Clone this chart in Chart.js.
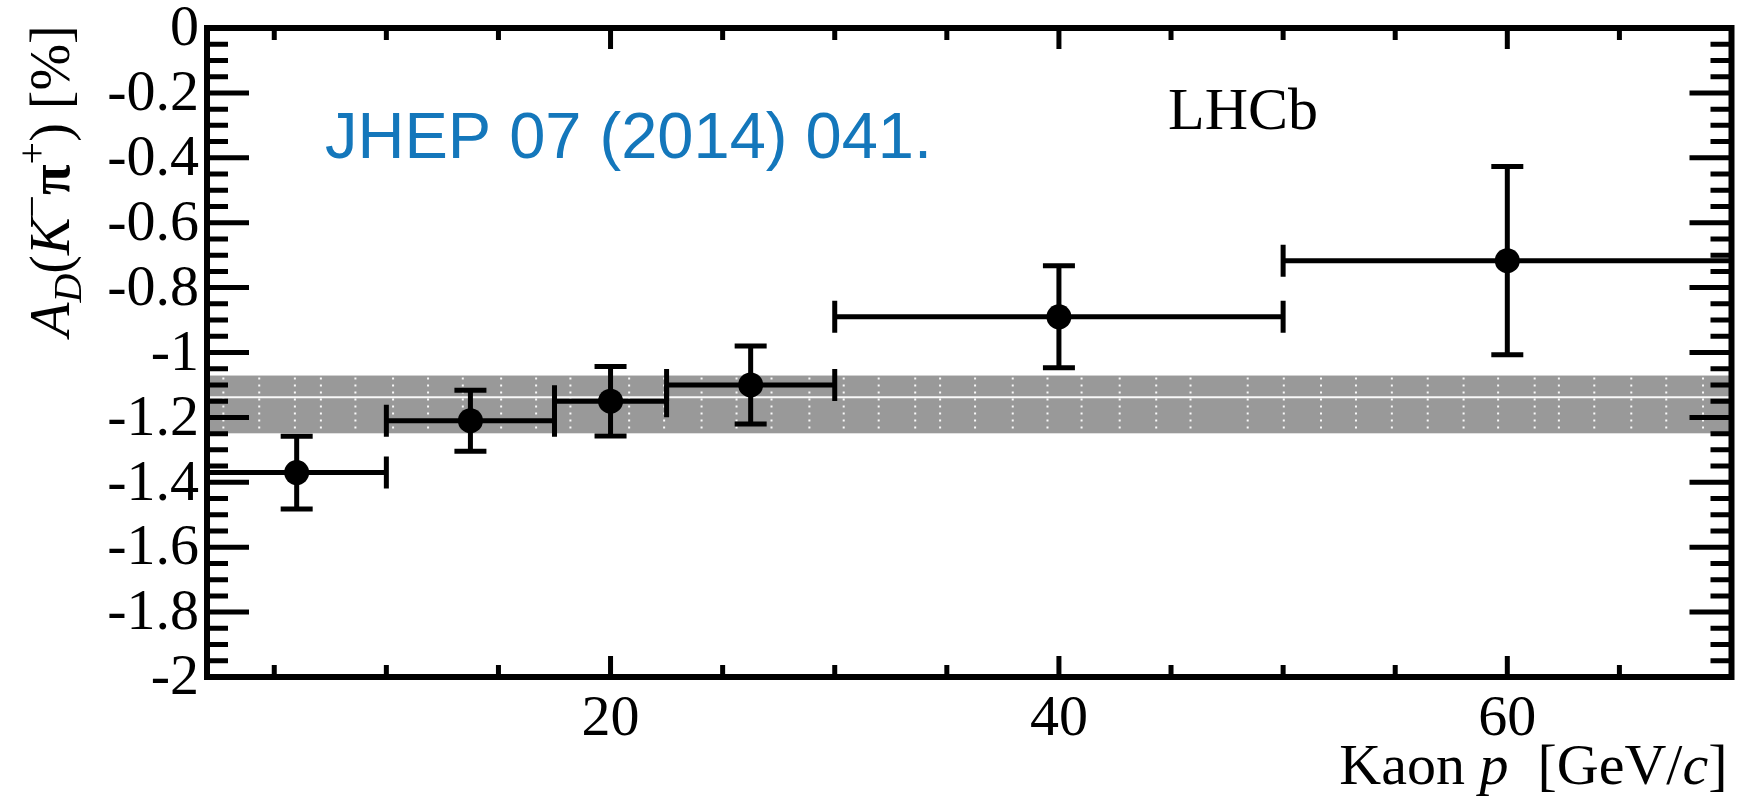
<!DOCTYPE html>
<html>
<head>
<meta charset="utf-8">
<title>Kaon detection asymmetry</title>
<script src="https://cdn.jsdelivr.net/npm/chart.js@4/dist/chart.umd.min.js"></script>
<style>
    html, body { margin: 0; padding: 0; background: #fff; }
    #wrap { width: 1744px; height: 805px; }
</style>
</head>
<body>
<div id="wrap"><canvas id="asymChart"></canvas></div>
<script>
// Kaon momentum bins [GeV/c] and measured A_D(K-pi+) in %
const binLow = [2, 10, 17.5, 22.5, 30, 50];
const binHigh = [10, 17.5, 22.5, 30, 50, 70];
const binCenter = [6, 13.75, 20, 26.25, 40, 60];
const asymValues = [-1.37, -1.21, -1.15, -1.10, -0.89, -0.717];
const asymErrors = [0.112, 0.094, 0.107, 0.12, 0.157, 0.29];

// Averaged result band (low, high) and the seam lines in its fill
const avgBand = [-1.249, -1.071];
const bandSeamY = -1.138;
const bandSeamsX = [2.73, 4.33, 5.92, 7.08, 8.62, 10.30, 11.86, 13.41, 15.12, 16.68, 18.21,
    20.83, 22.39, 24.06, 25.62, 27.18, 28.87, 30.40, 31.96, 33.59, 34.70, 36.26, 37.94,
    39.49, 41.01, 42.71, 44.34, 45.87, 48.42, 50.03, 51.69, 53.25, 54.85, 56.45, 58.05,
    59.59, 61.22, 62.30, 63.88, 65.53, 67.09, 68.73];

// Axis ticks
const xTickValues = [20, 40, 60];
const xTickLabels = ['20', '40', '60'];
const yTickValues = [0, -0.2, -0.4, -0.6, -0.8, -1, -1.2, -1.4, -1.6, -1.8, -2];
const yTickLabels = ['0', '-0.2', '-0.4', '-0.6', '-0.8', '-1', '-1.2', '-1.4', '-1.6', '-1.8', '-2'];
const xMinorStep = 5;
const yMinorStep = 0.05;

const SERIF = '"Liberation Serif", "Times New Roman", serif';
const SANS = '"Liberation Sans", Arial, sans-serif';

// Band, seams and error bars go under the markers
const underlayPlugin = {
    id: 'underlay',
    beforeDatasetsDraw(chart) {
        const { ctx, chartArea: area, scales: { x, y } } = chart;
        ctx.save();

        const yTop = y.getPixelForValue(avgBand[1]);
        const yBot = y.getPixelForValue(avgBand[0]);
        ctx.fillStyle = '#999999';
        ctx.fillRect(area.left, yTop, area.right - area.left, yBot - yTop);

        ctx.strokeStyle = 'rgba(255,255,255,0.95)';
        ctx.lineWidth = 2;
        const ySeam = y.getPixelForValue(bandSeamY);
        ctx.beginPath();
        ctx.moveTo(area.left, ySeam);
        ctx.lineTo(area.right, ySeam);
        ctx.stroke();

        ctx.setLineDash([2, 5]);
        ctx.lineWidth = 2;
        bandSeamsX.forEach(v => {
            const px = x.getPixelForValue(v);
            ctx.beginPath();
            ctx.moveTo(px, yTop + 2);
            ctx.lineTo(px, yBot);
            ctx.stroke();
        });
        ctx.setLineDash([]);

        // error bars with end caps
        const cap = 16;
        ctx.strokeStyle = '#000';
        ctx.lineWidth = 5;
        binCenter.forEach((c, i) => {
            const py = y.getPixelForValue(asymValues[i]);
            const x0 = x.getPixelForValue(binLow[i]);
            const x1 = x.getPixelForValue(binHigh[i]);
            const px = x.getPixelForValue(c);
            const yHi = y.getPixelForValue(asymValues[i] + asymErrors[i]);
            const yLo = y.getPixelForValue(asymValues[i] - asymErrors[i]);
            ctx.beginPath();
            ctx.moveTo(x0, py); ctx.lineTo(x1, py);
            ctx.moveTo(x0, py - cap); ctx.lineTo(x0, py + cap);
            ctx.moveTo(x1, py - cap); ctx.lineTo(x1, py + cap);
            ctx.moveTo(px, yHi); ctx.lineTo(px, yLo);
            ctx.moveTo(px - cap, yHi); ctx.lineTo(px + cap, yHi);
            ctx.moveTo(px - cap, yLo); ctx.lineTo(px + cap, yLo);
            ctx.stroke();
        });
        ctx.restore();
    }
};

// Frame, ticks on all four sides, labels and titles
const framePlugin = {
    id: 'frame',
    afterDraw(chart) {
        const { ctx, chartArea: area, scales: { x, y } } = chart;
        ctx.save();
        ctx.strokeStyle = '#000';
        ctx.fillStyle = '#000';

        ctx.lineWidth = 5;
        ctx.beginPath();
        for (let v = y.max; v >= y.min - 1e-9; v -= yMinorStep) {
            const py = y.getPixelForValue(v);
            const major = Math.abs(v / 0.2 - Math.round(v / 0.2)) < 1e-6;
            const len = major ? 42 : 21;
            ctx.moveTo(area.left, py); ctx.lineTo(area.left + len, py);
            ctx.moveTo(area.right, py); ctx.lineTo(area.right - len, py);
        }
        for (let v = xMinorStep; v < x.max; v += xMinorStep) {
            const px = x.getPixelForValue(v);
            const len = xTickValues.includes(v) ? 21 : 12;
            ctx.moveTo(px, area.bottom); ctx.lineTo(px, area.bottom - len);
            ctx.moveTo(px, area.top); ctx.lineTo(px, area.top + len);
        }
        ctx.stroke();

        ctx.lineWidth = 6;
        ctx.strokeRect(area.left, area.top, area.right - area.left, area.bottom - area.top);

        ctx.font = '58px ' + SERIF;
        ctx.textAlign = 'right';
        ctx.textBaseline = 'middle';
        yTickValues.forEach((v, i) => {
            ctx.fillText(yTickLabels[i], area.left - 8, y.getPixelForValue(v) + 2);
        });

        ctx.textAlign = 'center';
        ctx.textBaseline = 'alphabetic';
        xTickValues.forEach((v, i) => {
            ctx.fillText(xTickLabels[i], x.getPixelForValue(v), area.bottom + 58);
        });

        // x title, right aligned on the frame
        drawRuns(ctx, [
            { t: 'Kaon ', f: '58px ' + SERIF },
            { t: 'p', f: 'italic 58px ' + SERIF },
            { t: '  [GeV/', f: '58px ' + SERIF },
            { t: 'c', f: 'italic 58px ' + SERIF },
            { t: ']', f: '58px ' + SERIF }
        ], area.right - 4, 784, 'right');

        // y title, rotated
        ctx.save();
        ctx.translate(69, 181);
        ctx.rotate(-Math.PI / 2);
        drawRuns(ctx, [
            { t: 'A', f: 'italic 56px ' + SERIF },
            { t: 'D', f: 'italic 40px ' + SERIF, dy: 12 },
            { t: '(', f: '56px ' + SERIF },
            { t: 'K', f: 'italic 56px ' + SERIF },
            { t: '\u2212', f: '40px ' + SERIF, dy: -24 },
            { t: '\u03c0', f: 'bold 56px ' + SERIF },
            { t: '+', f: '40px ' + SERIF, dy: -24 },
            { t: ') [%]', f: '56px ' + SERIF }
        ], 0, 0, 'center');
        ctx.restore();

        ctx.font = '60px ' + SERIF;
        ctx.textAlign = 'left';
        ctx.fillText('LHCb', 1168, 129);

        ctx.fillStyle = '#1477bb';
        ctx.font = '65px ' + SANS;
        ctx.fillText('JHEP 07 (2014) 041.', 325, 158);
        ctx.restore();
    }
};

// draws a sequence of text runs with their own fonts and vertical shifts
function drawRuns(ctx, runs, x0, y0, align) {
    ctx.save();
    ctx.textAlign = 'left';
    ctx.textBaseline = 'alphabetic';
    let total = 0;
    runs.forEach(r => { ctx.font = r.f; total += ctx.measureText(r.t).width; });
    let cx = align === 'right' ? x0 - total : align === 'center' ? x0 - total / 2 : x0;
    runs.forEach(r => {
        ctx.font = r.f;
        ctx.fillText(r.t, cx, y0 + (r.dy || 0));
        cx += ctx.measureText(r.t).width;
    });
    ctx.restore();
}

const chart = new Chart(document.getElementById('asymChart'), {
    type: 'scatter',
    data: {
        datasets: [{
            label: 'A_D',
            data: binCenter.map((c, i) => ({ x: c, y: asymValues[i] })),
            pointRadius: 12.5,
            pointHoverRadius: 12.5,
            backgroundColor: '#000',
            borderWidth: 0
        }]
    },
    options: {
        responsive: true,
        maintainAspectRatio: false,
        animation: false,
        events: [],
        layout: { padding: { left: 207, right: 7, top: 28, bottom: 128 } },
        plugins: {
            legend: { display: false },
            tooltip: { enabled: false }
        },
        scales: {
            x: { type: 'linear', min: 2, max: 70, display: false },
            y: { type: 'linear', min: -2, max: 0, display: false }
        }
    },
    plugins: [underlayPlugin, framePlugin]
});
</script>
</body>
</html>
